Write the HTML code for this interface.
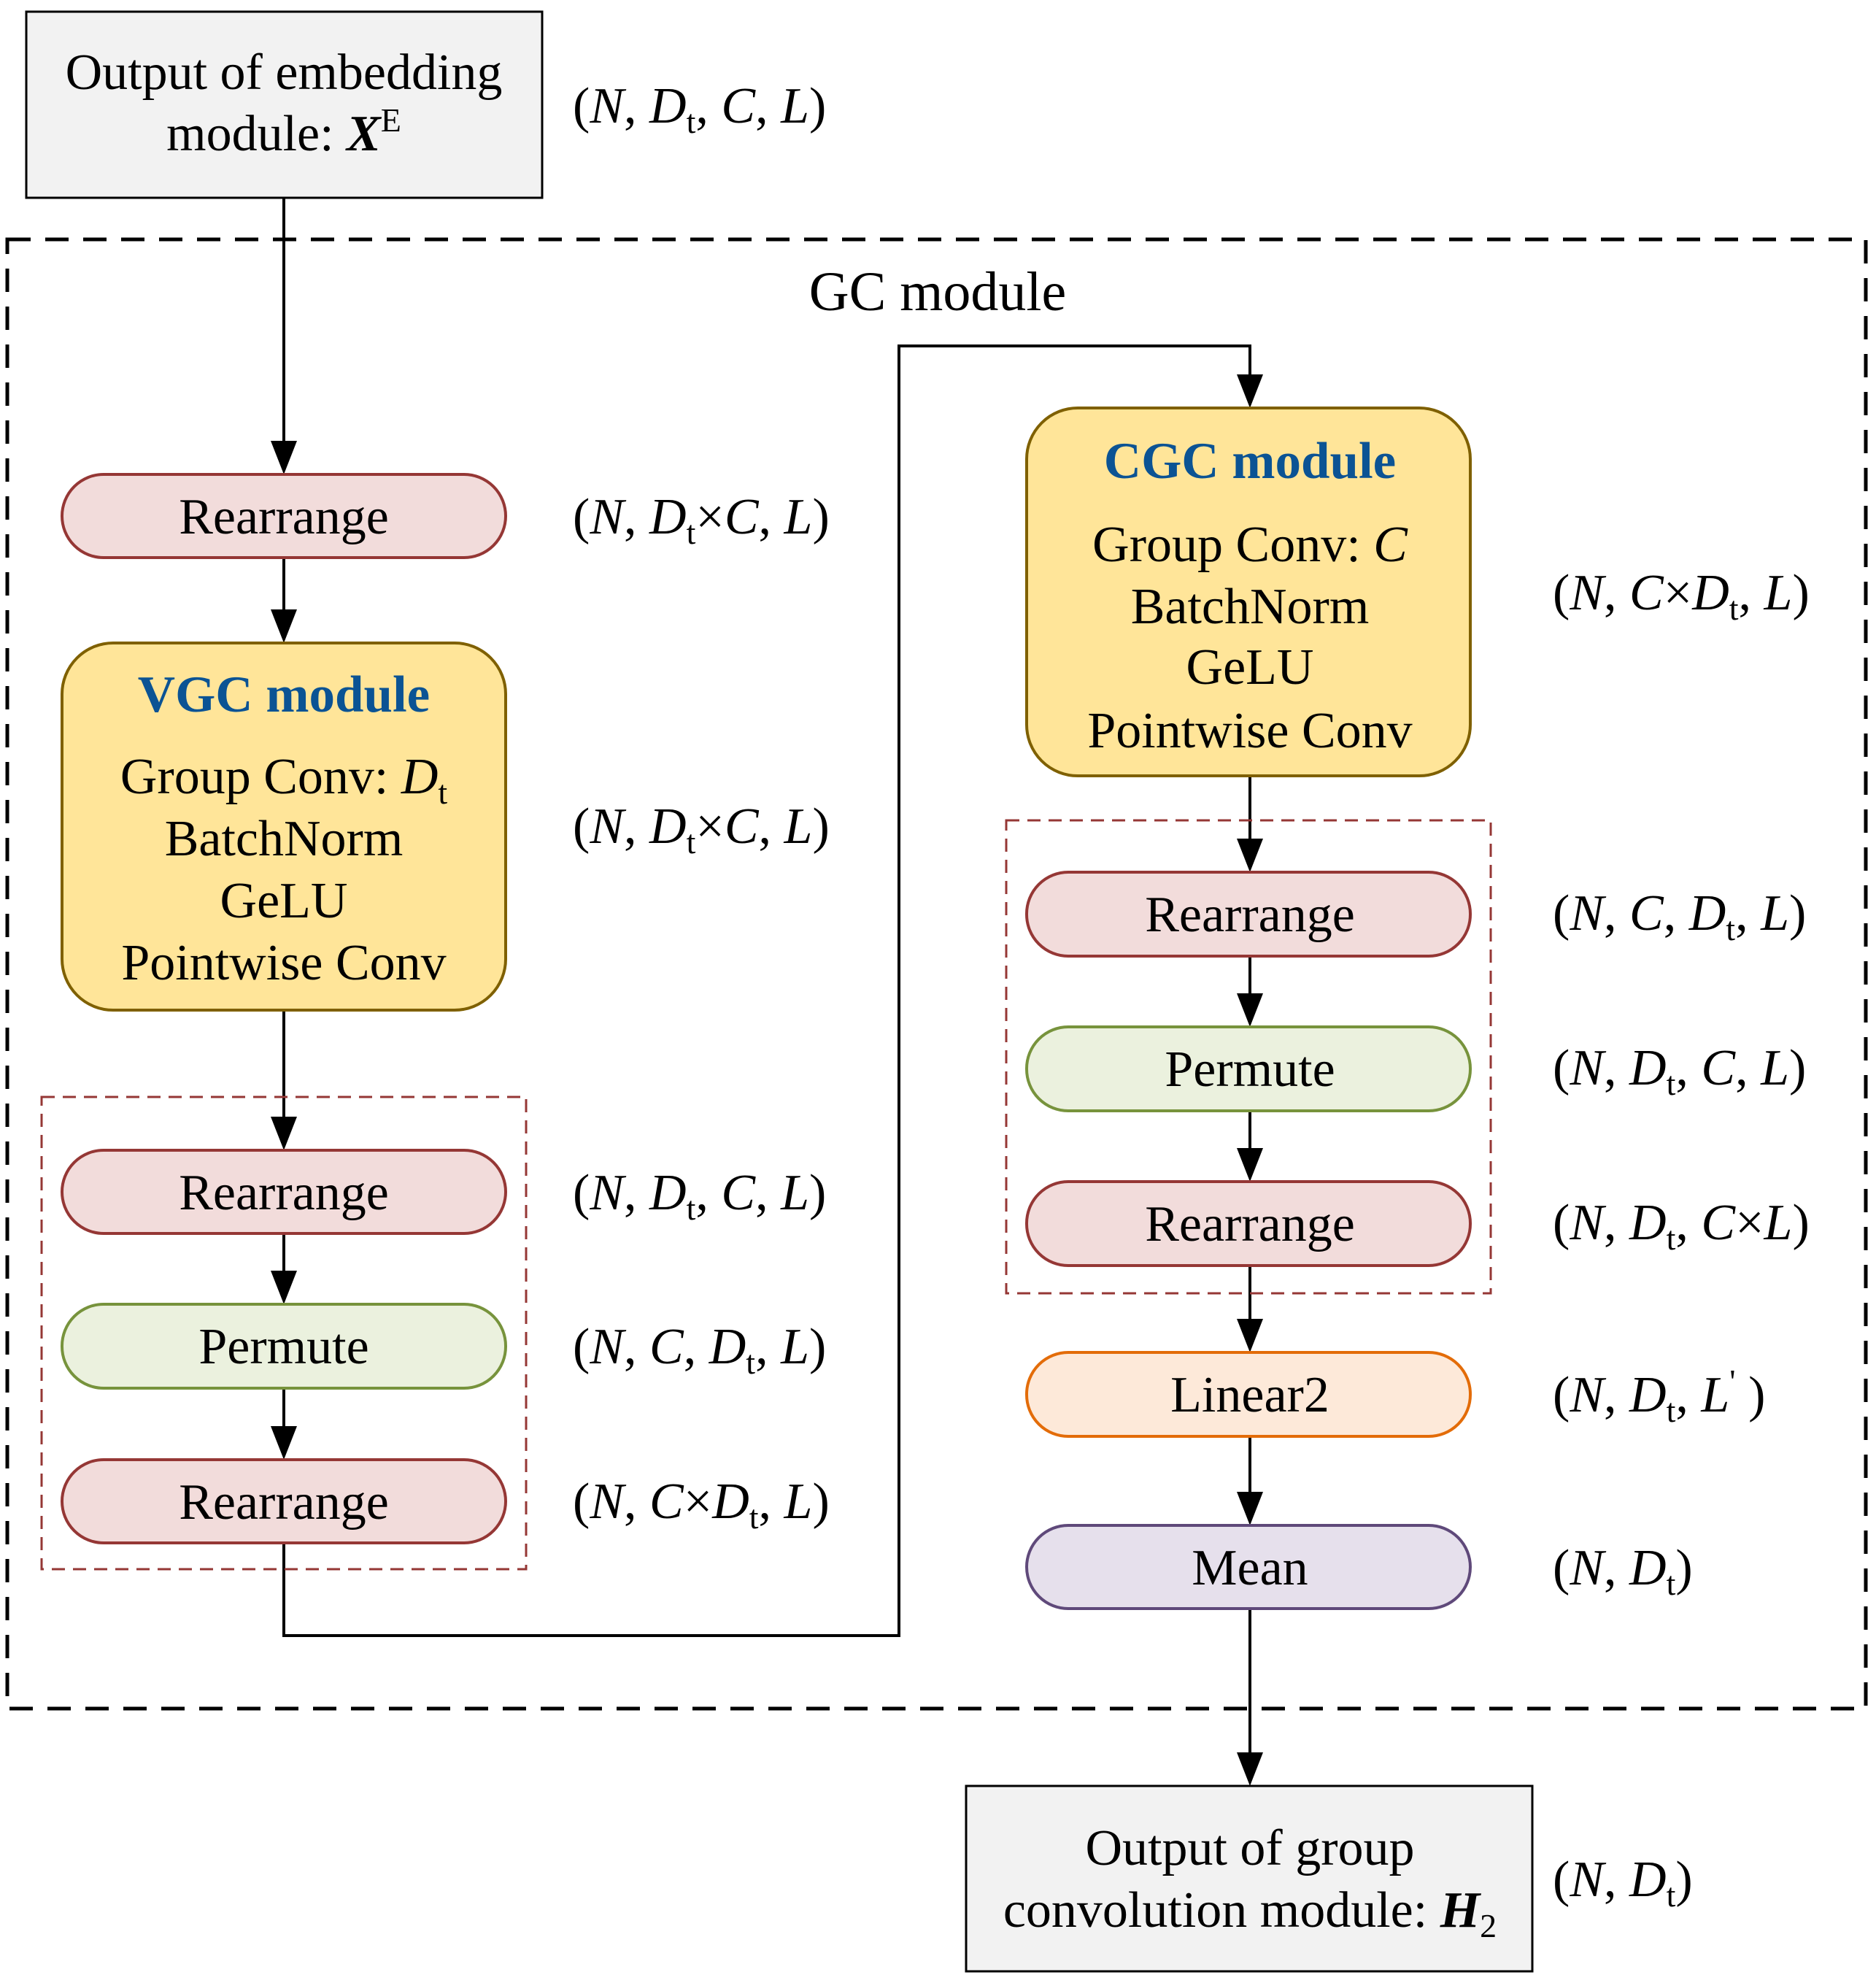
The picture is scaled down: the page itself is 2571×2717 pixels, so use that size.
<!DOCTYPE html>
<html><head><meta charset="utf-8"><style>
html,body{margin:0;padding:0;background:#fff;}
svg{display:block;}
text{font-family:"Liberation Serif","DejaVu Serif",serif;font-size:70px;fill:#000;}
.c{text-anchor:middle;}
.i{font-style:italic;}
.s{font-size:46px;}
.t{font-weight:bold;fill:#0b5394;font-size:71px;}
</style></head><body>
<svg width="2571" height="2717" viewBox="0 0 2571 2717" xmlns="http://www.w3.org/2000/svg">
<!-- outer dashed -->
<rect x="10" y="328" width="2547" height="2013" fill="none" stroke="#000" stroke-width="5" stroke-dasharray="32,20"/>
<text class="c" x="1285" y="425" style="font-size:76px">GC module</text>

<!-- top box -->
<rect x="36" y="16" width="707" height="255" fill="#f2f2f2" stroke="#000" stroke-width="3"/>
<text class="c" x="389" y="122">Output of embedding</text>
<text class="c" x="389" y="206">module: <tspan class="i" font-weight="bold">X</tspan><tspan class="s" dy="-26">E</tspan></text>

<!-- connectors -->
<g stroke="#000" stroke-width="4" fill="none">
<line x1="389" y1="271" x2="389" y2="606"/>
<line x1="389" y1="764" x2="389" y2="837"/>
<line x1="389" y1="1384" x2="389" y2="1532"/>
<line x1="389" y1="1690" x2="389" y2="1743"/>
<line x1="389" y1="1902" x2="389" y2="1956"/>
<polyline points="389,2114 389,2241 1232,2241 1232,474 1713,474 1713,515"/>
<line x1="1713" y1="1063" x2="1713" y2="1151"/>
<line x1="1713" y1="1310" x2="1713" y2="1363"/>
<line x1="1713" y1="1522" x2="1713" y2="1575"/>
<line x1="1713" y1="1734" x2="1713" y2="1809"/>
<line x1="1713" y1="1968" x2="1713" y2="2046"/>
<line x1="1713" y1="2204" x2="1713" y2="2403"/>
</g>
<g fill="#000">
<polygon points="371,604 407,604 389,650"/>
<polygon points="371,835 407,835 389,881"/>
<polygon points="371,1530 407,1530 389,1576"/>
<polygon points="371,1741 407,1741 389,1787"/>
<polygon points="371,1954 407,1954 389,2000"/>
<polygon points="1695,513 1731,513 1713,559"/>
<polygon points="1695,1149 1731,1149 1713,1195"/>
<polygon points="1695,1361 1731,1361 1713,1407"/>
<polygon points="1695,1573 1731,1573 1713,1619"/>
<polygon points="1695,1807 1731,1807 1713,1853"/>
<polygon points="1695,2044 1731,2044 1713,2090"/>
<polygon points="1695,2401 1731,2401 1713,2447"/>
</g>

<!-- red dashed groups -->
<rect x="57" y="1503" width="664" height="647" fill="none" stroke="#953735" stroke-width="3" stroke-dasharray="18,11"/>
<rect x="1379" y="1124" width="664" height="648" fill="none" stroke="#953735" stroke-width="3" stroke-dasharray="18,11"/>

<!-- left column -->
<rect x="85" y="650" width="608" height="114" rx="57" fill="#f2dcdb" stroke="#953735" stroke-width="4"/>
<text class="c" x="389" y="731">Rearrange</text>
<rect x="85" y="881" width="608" height="503" rx="70" fill="#ffe599" stroke="#7f6000" stroke-width="4"/>
<text class="c t" x="389" y="975">VGC module</text>
<text class="c" x="389" y="1087">Group Conv: <tspan class="i">D</tspan><tspan class="s" dy="14">t</tspan></text>
<text class="c" x="389" y="1172">BatchNorm</text>
<text class="c" x="389" y="1257">GeLU</text>
<text class="c" x="389" y="1342">Pointwise Conv</text>
<rect x="85" y="1576" width="608" height="114" rx="57" fill="#f2dcdb" stroke="#953735" stroke-width="4"/>
<text class="c" x="389" y="1657">Rearrange</text>
<rect x="85" y="1787" width="608" height="115" rx="57" fill="#ebf1de" stroke="#77933c" stroke-width="4"/>
<text class="c" x="389" y="1868">Permute</text>
<rect x="85" y="2000" width="608" height="114" rx="57" fill="#f2dcdb" stroke="#953735" stroke-width="4"/>
<text class="c" x="389" y="2081">Rearrange</text>

<!-- right column -->
<rect x="1407" y="559" width="608" height="504" rx="70" fill="#ffe599" stroke="#7f6000" stroke-width="4"/>
<text class="c t" x="1713" y="655">CGC module</text>
<text class="c" x="1713" y="769">Group Conv: <tspan class="i">C</tspan></text>
<text class="c" x="1713" y="854">BatchNorm</text>
<text class="c" x="1713" y="937">GeLU</text>
<text class="c" x="1713" y="1024">Pointwise Conv</text>
<rect x="1407" y="1195" width="608" height="115" rx="57" fill="#f2dcdb" stroke="#953735" stroke-width="4"/>
<text class="c" x="1713" y="1276">Rearrange</text>
<rect x="1407" y="1407" width="608" height="115" rx="57" fill="#ebf1de" stroke="#77933c" stroke-width="4"/>
<text class="c" x="1713" y="1488">Permute</text>
<rect x="1407" y="1619" width="608" height="115" rx="57" fill="#f2dcdb" stroke="#953735" stroke-width="4"/>
<text class="c" x="1713" y="1700">Rearrange</text>
<rect x="1407" y="1853" width="608" height="115" rx="57" fill="#fde9d9" stroke="#e36c09" stroke-width="4"/>
<text class="c" x="1713" y="1934">Linear2</text>
<rect x="1407" y="2090" width="608" height="114" rx="57" fill="#e6e0ec" stroke="#5f497a" stroke-width="4"/>
<text class="c" x="1713" y="2171">Mean</text>

<!-- bottom box -->
<rect x="1324" y="2447" width="776" height="254" fill="#f2f2f2" stroke="#000" stroke-width="3"/>
<text class="c" x="1713" y="2555">Output of group</text>
<text class="c" x="1713" y="2640">convolution module: <tspan class="i" font-weight="bold">H</tspan><tspan class="s" dy="14">2</tspan></text>

<!-- left labels -->
<text x="785" y="168">(<tspan class="i">N</tspan>, <tspan class="i">D</tspan><tspan class="s" dy="14">t</tspan><tspan dy="-14">, </tspan><tspan class="i">C</tspan>, <tspan class="i">L</tspan>)</text>
<text x="785" y="731">(<tspan class="i">N</tspan>, <tspan class="i">D</tspan><tspan class="s" dy="14">t</tspan><tspan dy="-14">×</tspan><tspan class="i">C</tspan>, <tspan class="i">L</tspan>)</text>
<text x="785" y="1155">(<tspan class="i">N</tspan>, <tspan class="i">D</tspan><tspan class="s" dy="14">t</tspan><tspan dy="-14">×</tspan><tspan class="i">C</tspan>, <tspan class="i">L</tspan>)</text>
<text x="785" y="1657">(<tspan class="i">N</tspan>, <tspan class="i">D</tspan><tspan class="s" dy="14">t</tspan><tspan dy="-14">, </tspan><tspan class="i">C</tspan>, <tspan class="i">L</tspan>)</text>
<text x="785" y="1868">(<tspan class="i">N</tspan>, <tspan class="i">C</tspan>, <tspan class="i">D</tspan><tspan class="s" dy="14">t</tspan><tspan dy="-14">, </tspan><tspan class="i">L</tspan>)</text>
<text x="785" y="2080">(<tspan class="i">N</tspan>, <tspan class="i">C</tspan>×<tspan class="i">D</tspan><tspan class="s" dy="14">t</tspan><tspan dy="-14">, </tspan><tspan class="i">L</tspan>)</text>

<!-- right labels -->
<text x="2128" y="835">(<tspan class="i">N</tspan>, <tspan class="i">C</tspan>×<tspan class="i">D</tspan><tspan class="s" dy="14">t</tspan><tspan dy="-14">, </tspan><tspan class="i">L</tspan>)</text>
<text x="2128" y="1274">(<tspan class="i">N</tspan>, <tspan class="i">C</tspan>, <tspan class="i">D</tspan><tspan class="s" dy="14">t</tspan><tspan dy="-14">, </tspan><tspan class="i">L</tspan>)</text>
<text x="2128" y="1486">(<tspan class="i">N</tspan>, <tspan class="i">D</tspan><tspan class="s" dy="14">t</tspan><tspan dy="-14">, </tspan><tspan class="i">C</tspan>, <tspan class="i">L</tspan>)</text>
<text x="2128" y="1698">(<tspan class="i">N</tspan>, <tspan class="i">D</tspan><tspan class="s" dy="14">t</tspan><tspan dy="-14">, </tspan><tspan class="i">C</tspan>×<tspan class="i">L</tspan>)</text>
<text x="2128" y="1934">(<tspan class="i">N</tspan>, <tspan class="i">D</tspan><tspan class="s" dy="14">t</tspan><tspan dy="-14">, </tspan><tspan class="i">L</tspan><tspan class="s" dy="-26">'</tspan><tspan dy="26"> )</tspan></text>
<text x="2128" y="2171">(<tspan class="i">N</tspan>, <tspan class="i">D</tspan><tspan class="s" dy="14">t</tspan><tspan dy="-14">)</tspan></text>
<text x="2128" y="2598">(<tspan class="i">N</tspan>, <tspan class="i">D</tspan><tspan class="s" dy="14">t</tspan><tspan dy="-14">)</tspan></text>
</svg>
</body></html>
